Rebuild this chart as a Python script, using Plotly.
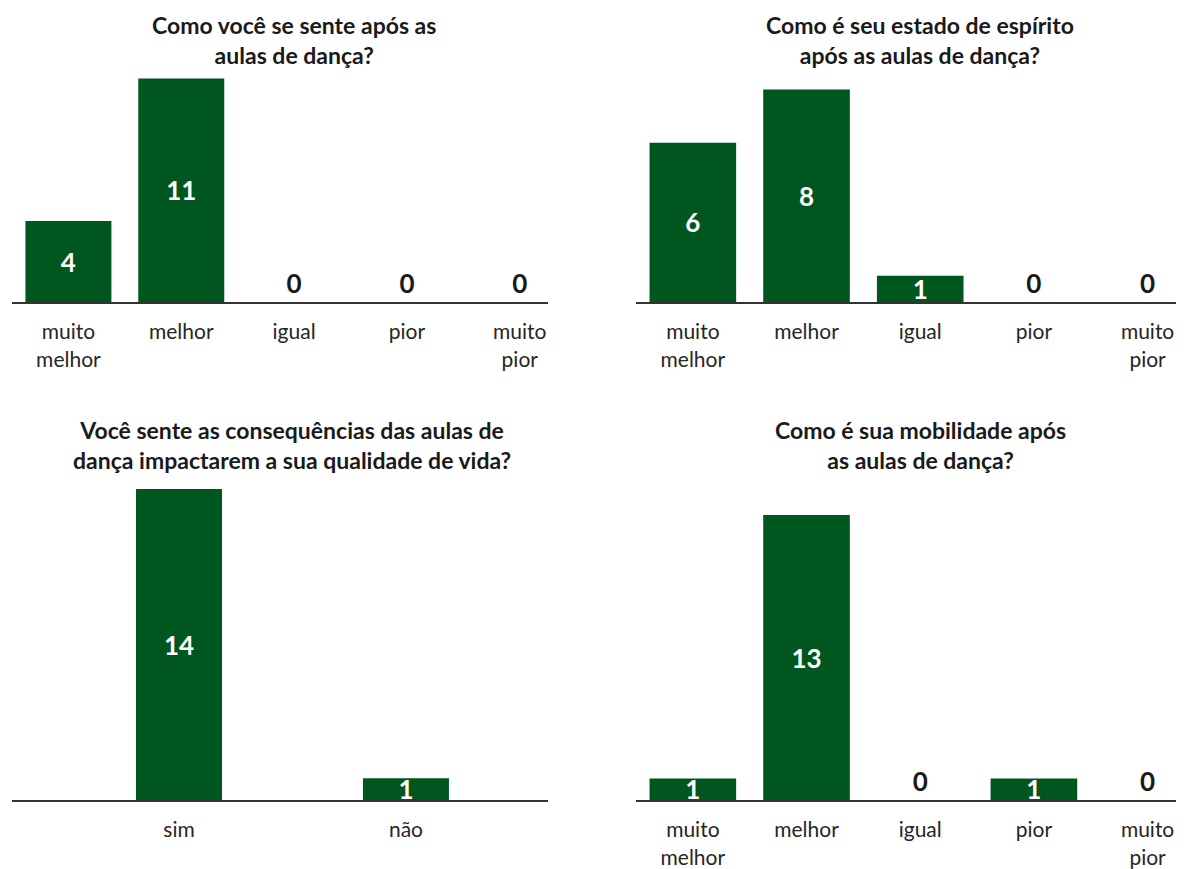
import plotly.graph_objects as go

# ---- data ----
cats5 = ["muito melhor", "melhor", "igual", "pior", "muito pior"]
ticks5 = ["muito<br>melhor", "melhor", "igual", "pior", "muito<br>pior"]
cats2 = ["sim", "não"]

sente_vals = [4, 11, 0, 0, 0]
espirito_vals = [6, 8, 1, 0, 0]
qualidade_vals = [14, 1]
mobilidade_vals = [1, 13, 0, 1, 0]

titles = [
    "Como você se sente após as<br>aulas de dança?",
    "Como é seu estado de espírito<br>após as aulas de dança?",
    "Você sente as consequências das aulas de<br>dança impactarem a sua qualidade de vida?",
    "Como é sua mobilidade após<br>as aulas de dança?",
]

GREEN = "#00561f"
FONT = "Lato, 'Open Sans', sans-serif"
W, H = 1191, 869

fig = go.Figure()

def px_x(a, b):
    return [a / W, b / W]

def px_y(top, bottom):
    return [1 - bottom / H, 1 - top / H]

panels = [
    # (axis suffix, cats, ticktext, vals, xdom px, ydom px, yrange max, xrange, bar width, title center y px)
    ("", cats5, ticks5, sente_vals, (12, 548), (72, 304), 11.34, [-0.5, 4.25], 0.762, 40),
    ("2", cats5, ticks5, espirito_vals, (636, 1176), (72, 304), 8.67, [-0.5, 4.25], 0.762, 40),
    ("3", cats2, cats2, qualidade_vals, (12, 548), (483, 805), 14.4, [-0.736, 1.626], 0.379, 448),
    ("4", cats5, ticks5, mobilidade_vals, (636, 1176), (483, 805), 14.58, [-0.5, 4.25], 0.762, 448),
]

for i, (sfx, cats, ticktext, vals, xd, yd, ymax, xr, bw, ty) in enumerate(panels):
    xa = "x" + sfx
    ya = "y" + sfx
    positions = ["inside" if v > 0 else "outside" for v in vals]
    fig.add_trace(go.Bar(
        x=cats, y=vals, xaxis=xa, yaxis=ya, width=bw,
        marker=dict(color=GREEN, line=dict(width=0)),
        text=[str(v) for v in vals],
        textposition=positions,
        textangle=0,
        insidetextanchor="middle",
        constraintext="none",
        cliponaxis=False,
        textfont=dict(family=FONT, size=26, color="white", weight="bold"),
        insidetextfont=dict(family=FONT, size=26, color="white", weight="bold"),
        outsidetextfont=dict(family=FONT, size=26, color="#1a1a1a", weight="bold"),
        showlegend=False,
        hoverinfo="skip",
    ))
    fig.layout["xaxis" + sfx] = dict(
        domain=px_x(*xd), anchor=ya, type="category",
        categoryorder="array", categoryarray=cats,
        tickvals=cats, ticktext=ticktext,
        range=xr, showline=True, linecolor="#333333", linewidth=1.5,
        ticks="", showgrid=False, zeroline=False, fixedrange=True,
        ticklabelstandoff=10,
        tickfont=dict(family=FONT, size=21, color="#262626"),
    )
    fig.layout["yaxis" + sfx] = dict(
        domain=px_y(*yd), anchor=xa, range=[0, ymax],
        visible=False, showgrid=False, zeroline=False,
    )
    tx = cats[2] if len(cats) == 5 else 0.5
    fig.add_annotation(
        x=tx, xref=xa, y=1 - ty / H, yref="paper",
        xanchor="center", yanchor="middle",
        text="<b>" + titles[i] + "</b>", showarrow=False,
        font=dict(family=FONT, size=23, color="#1a1a1a"),
        align="center",
    )

fig.update_layout(
    width=W, height=H,
    margin=dict(l=0, r=0, t=0, b=0),
    paper_bgcolor="white", plot_bgcolor="white",
    uniformtext=dict(minsize=26, mode="show"),
)

fig.write_html("out.html")
